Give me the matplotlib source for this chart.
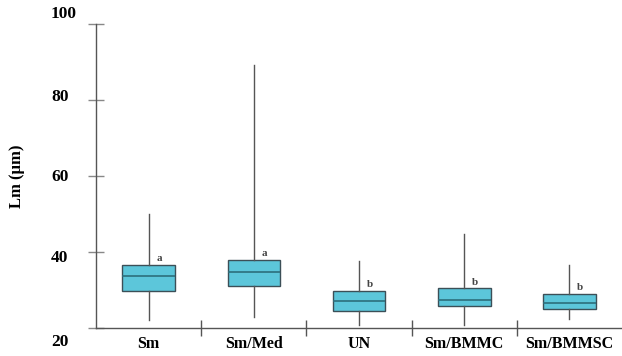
import matplotlib
matplotlib.use("Agg")
import matplotlib.pyplot as plt
from matplotlib.transforms import ScaledTranslation

categories = ["Sm", "Sm/Med", "UN", "Sm/BMMC", "Sm/BMMSC"]
whisker_low = [22.1, 23.0, 20.8, 20.8, 22.3]
q1_values = [29.7, 31.1, 24.4, 25.9, 24.9]
medians = [33.7, 34.7, 27.0, 27.4, 26.5]
q3_values = [36.6, 37.9, 29.7, 30.4, 28.9]
whisker_high = [50.0, 89.2, 37.7, 44.7, 36.6]
letters = ["a", "a", "b", "b", "b"]
ytick_values = [20, 40, 60, 80, 100]
ytick_labels = ["20", "40", "60", "80", "100"]
# vertical pixel offsets of the printed labels relative to their tick marks
ytick_label_shift_px = [-13.7, -6.3, -1.0, 3.3, 10.0]

plt.rcParams["font.family"] = ["Liberation Serif", "DejaVu Serif"]

fig = plt.figure(figsize=(6.22, 3.56), dpi=100)
ax = fig.add_axes([96 / 622, 28 / 356, 526 / 622, 304 / 356])

stats = []
for i, c in enumerate(categories):
    stats.append(dict(label=c, whislo=whisker_low[i], q1=q1_values[i],
                      med=medians[i], q3=q3_values[i], whishi=whisker_high[i], fliers=[]))

ax.bxp(stats, positions=range(len(categories)), widths=0.5, patch_artist=True,
       showcaps=False, showfliers=False,
       boxprops=dict(facecolor="#5cc6da", edgecolor="#3c4f57", linewidth=1.0),
       medianprops=dict(color="#2d6f7c", linewidth=1.2),
       whiskerprops=dict(color="#555555", linewidth=1.0))

for i, l in enumerate(letters):
    ax.text(i + 0.1, q3_values[i] + 0.5, l, ha="center", va="bottom",
            fontsize=8, fontweight="bold", color="#444444")

ax.set_xlim(-0.5, 4.5)
ax.set_ylim(20, 100)

for s in ["top", "right"]:
    ax.spines[s].set_visible(False)
for s in ["left", "bottom"]:
    ax.spines[s].set_color("#555555")
    ax.spines[s].set_linewidth(1.0)

ax.set_xticks(range(len(categories)))
ax.set_xticklabels(categories, fontsize=11.5, fontweight="bold")
ax.tick_params(axis="x", which="major", length=0, pad=6)
ax.set_xticks([0.5, 1.5, 2.5, 3.5], minor=True)
ax.tick_params(axis="x", which="minor", direction="inout", length=12,
               color="#555555", width=1.0)

ax.set_yticks(ytick_values)
ax.set_yticklabels([])
ax.tick_params(axis="y", direction="inout", length=12, color="#888888", width=1.0)

for v, lab, dy in zip(ytick_values, ytick_labels, ytick_label_shift_px):
    tr = ax.get_yaxis_transform() + ScaledTranslation(0, dy / 100, fig.dpi_scale_trans)
    ax.text(-45 / 526, v, lab, transform=tr, ha="left", va="center",
            fontsize=12.5, fontweight="bold", clip_on=False)

fig.text(17 / 622, 1 - 176 / 356, "Lm (μm)", rotation=90, ha="center", va="center",
         fontsize=12, fontweight="bold")

fig.savefig("out.png", dpi=100)
